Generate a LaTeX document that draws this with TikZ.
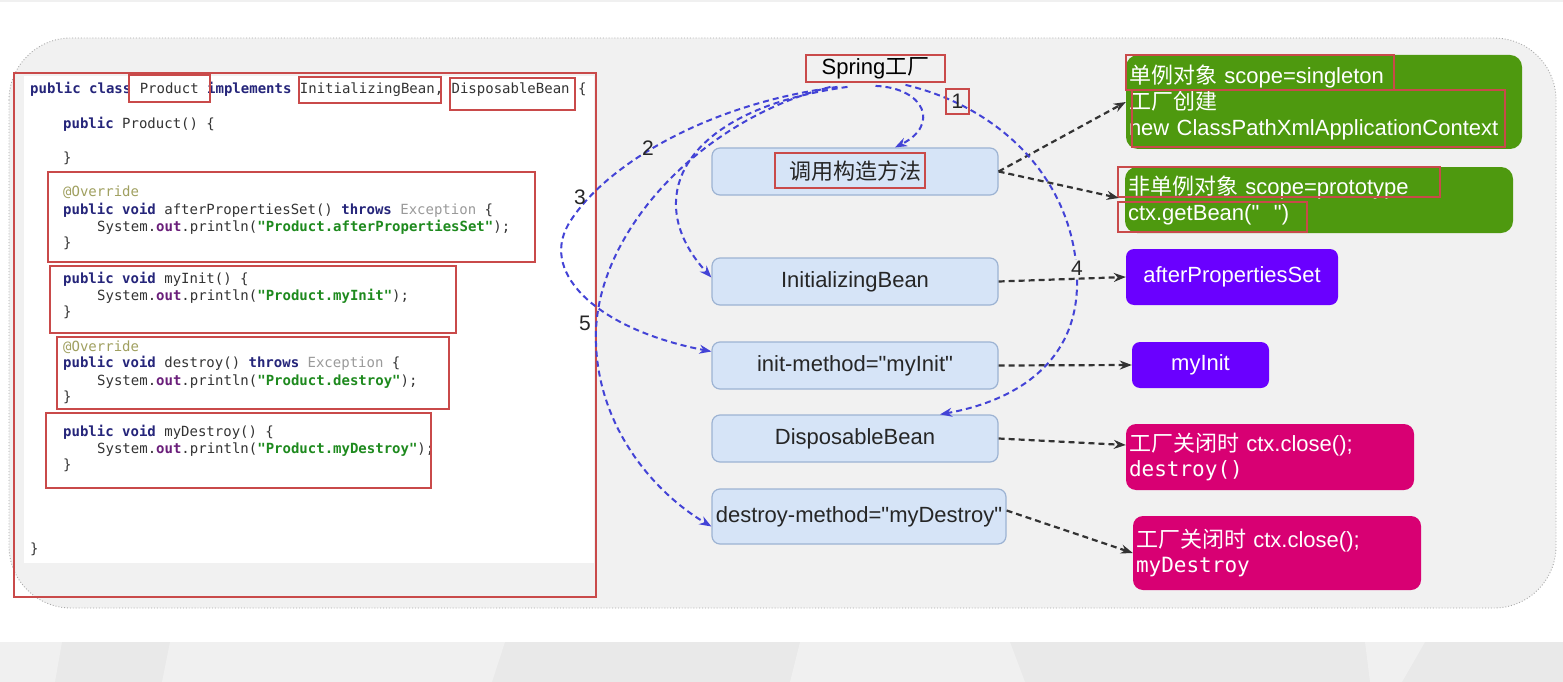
\documentclass[tikz,border=0pt]{standalone}
\usepackage{fontspec}
\setmainfont{Liberation Sans}[Ligatures=TeXOff]
\newfontfamily\cjk{Noto Sans CJK SC}
\newfontfamily\codefont{DejaVu Sans Mono}[Ligatures=TeXOff]
\usetikzlibrary{calc,arrows.meta}
\definecolor{panelfill}{HTML}{F1F1F1}
\definecolor{panelborder}{HTML}{A8A8A8}
\definecolor{bluefill}{HTML}{D6E4F7}
\definecolor{blueborder}{HTML}{9DB3D3}
\definecolor{greenc}{HTML}{4E990F}
\definecolor{purplec}{HTML}{6A00FF}
\definecolor{magentac}{HTML}{D80073}
\definecolor{annored}{HTML}{C94A4A}
\definecolor{bluearrow}{HTML}{4343D6}
\definecolor{blackarrow}{HTML}{333333}
\definecolor{kwc}{HTML}{25257A}
\definecolor{strc}{HTML}{1E8A1E}
\definecolor{outc}{HTML}{6A1E7A}
\definecolor{excc}{HTML}{9A9A9A}
\definecolor{annc}{HTML}{A0A060}
\definecolor{plainc}{HTML}{333333}
\definecolor{bandc}{HTML}{E9E9E9}
\definecolor{bandlight}{HTML}{F0F0F0}
\newcommand\ckw[1]{\textcolor{kwc}{\bfseries #1}}
\newcommand\cstr[1]{\textcolor{strc}{\bfseries #1}}
\newcommand\cout[1]{\textcolor{outc}{\bfseries #1}}
\newcommand\cexc[1]{\textcolor{excc}{#1}}
\newcommand\cann[1]{\textcolor{annc}{#1}}
\newcommand\mymono{\codefont\fontsize{21}{25}\selectfont}
\begin{document}
\begin{tikzpicture}[x=1pt,y=-1pt,
  big/.style={font=\fontsize{22}{26}\selectfont},
  bluebox/.style={draw=blueborder, fill=bluefill, rounded corners=8pt, line width=1.2pt,
    font=\fontsize{22}{26}\selectfont, text=black!85, inner sep=0pt},
  gbox/.style={fill=greenc, rounded corners=12pt, text=white, align=left, inner xsep=3pt,
    inner ysep=0pt, font=\fontsize{22}{26}\selectfont},
  pbox/.style={fill=purplec, rounded corners=8pt, text=white, inner sep=0pt,
    font=\fontsize{22}{26}\selectfont},
  mbox/.style={fill=magentac, rounded corners=10pt, text=white, align=left, inner xsep=3pt,
    inner ysep=0pt, font=\fontsize{22}{25}\selectfont},
  annobox/.style={draw=annored, line width=1.8pt},
  codeline/.style={anchor=base west, inner sep=0pt, text=plainc,
    font=\codefont\fontsize{14}{17}\selectfont},
  blk/.style={draw=blackarrow, line width=2.2pt, dash pattern=on 6pt off 4pt,
    -{Stealth[length=12pt,width=9pt]}},
  blu/.style={draw=bluearrow, line width=2pt, dash pattern=on 6pt off 4pt,
    -{Stealth[length=12pt,width=9pt]}},
  numlbl/.style={font=\fontsize{21}{24}\selectfont, inner sep=1pt, text=black!85}
]
\useasboundingbox (0,0) rectangle (1563,682);
% background
\fill[white] (0,0) rectangle (1563,682);
\fill[black!6] (0,0) rectangle (1563,2);
\fill[bandc] (0,642) rectangle (1563,682);
\fill[bandlight] (0,642) -- (62,642) -- (55,682) -- (0,682) -- cycle;
\fill[bandlight] (170,642) -- (505,642) -- (492,682) -- (162,682) -- cycle;
\fill[bandlight] (800,642) -- (1010,642) -- (1025,682) -- (790,682) -- cycle;
\fill[bandlight] (1365,642) -- (1425,642) -- (1402,682) -- (1370,682) -- cycle;
% outer panel
\draw[panelborder, line width=0.9pt, dotted, fill=panelfill, rounded corners=62pt]
  (9,38) rectangle (1556,608);
% code panel
\fill[white] (24,76) rectangle (594,563);
\draw[annobox] (14,73) rectangle (596,597);
\node[codeline] (c1) at (30,94) {\ckw{public class} Product \ckw{implements} InitializingBean, DisposableBean \{};
\node[codeline] (c2) at (63,129) {\ckw{public} Product() \{};
\node[codeline] (c3) at (63,162) {\}};
\node[codeline] (c4) at (63,196) {\cann{@Override}};
\node[codeline] (c5) at (63,214) {\ckw{public void} afterPropertiesSet() \ckw{throws} \cexc{Exception} \{};
\node[codeline] (c6) at (97,231) {System.\cout{out}.println(\cstr{"Product.afterPropertiesSet"});};
\node[codeline] (c7) at (63,247) {\}};
\node[codeline] (c8) at (63,283) {\ckw{public void} myInit() \{};
\node[codeline] (c9) at (97,300) {System.\cout{out}.println(\cstr{"Product.myInit"});};
\node[codeline] (c10) at (63,316) {\}};
\node[codeline] (c11) at (63,351) {\cann{@Override}};
\node[codeline] (c12) at (63,367) {\ckw{public void} destroy() \ckw{throws} \cexc{Exception} \{};
\node[codeline] (c13) at (97,385) {System.\cout{out}.println(\cstr{"Product.destroy"});};
\node[codeline] (c14) at (63,401) {\}};
\node[codeline] (c15) at (63,436) {\ckw{public void} myDestroy() \{};
\node[codeline] (c16) at (97,453) {System.\cout{out}.println(\cstr{"Product.myDestroy"});};
\node[codeline] (c17) at (63,469) {\}};
\node[codeline] (c18) at (30,553) {\}};
% code annotations
\draw[annobox] (129,75) rectangle (210,102);
\draw[annobox] (299,77) rectangle (441,103);
\draw[annobox] (450,78) rectangle (575,110);
\draw[annobox] (48,172) rectangle (535,262);
\draw[annobox] (50,266) rectangle (456,333);
\draw[annobox] (57,337) rectangle (449,409);
\draw[annobox] (46,413) rectangle (431,488);
% factory
\node[annobox, big, minimum width=139pt, minimum height=27pt, inner sep=0pt] (spring) at (875.5,68.5) {Spring{\cjk 工厂}};
% lifecycle boxes
\node[bluebox, minimum width=286pt, minimum height=47pt] (ctor) at (855,171.5) {{\cjk 调用构造方法}};
\draw[annobox] (775,153) rectangle (925,188);
\node[bluebox, minimum width=286pt, minimum height=47pt] (ib) at (855,281.5) {InitializingBean};
\node[bluebox, minimum width=286pt, minimum height=47pt] (im) at (855,365.5) {init-method="myInit"};
\node[bluebox, minimum width=286pt, minimum height=47pt] (db) at (855,438.5) {DisposableBean};
\node[bluebox, minimum width=294pt, minimum height=55pt] (dm) at (859,516.5) {destroy-method="myDestroy"};
% right side
\node[gbox, text width=390pt, minimum height=94pt] (g1) at (1324,102)
  {{\cjk 单例对象} scope=singleton\\{\cjk 工厂创建}\\new ClassPathXmlApplicationContext};
\draw[annobox] (1126,55) rectangle (1394,90);
\draw[annobox] (1132,90) rectangle (1505,147);
\node[gbox, text width=382pt, minimum height=66pt] (g2) at (1319,200)
  {{\cjk 非单例对象} scope=prototype\\ctx.getBean("\ \ ")};
\draw[annobox] (1118,167) rectangle (1440,197);
\draw[annobox] (1118,202) rectangle (1307,232);
\node[pbox, minimum width=212pt, minimum height=56pt] (p1) at (1232,277) {afterPropertiesSet};
\node[pbox, minimum width=137pt, minimum height=46pt] (p2) at (1200.5,365) {myInit};
\node[mbox, text width=282pt, minimum height=66pt] (m1) at (1270,457)
  {{\cjk 工厂关闭时} ctx.close();\\{\mymono destroy()}};
\node[mbox, text width=282pt, minimum height=74pt] (m2) at (1277,553)
  {{\cjk 工厂关闭时} ctx.close();\\{\mymono myDestroy}};
% black connectors
\draw[blk] (ctor.east) -- (g1.west);
\draw[blk] (ctor.east) -- ($(g2.west)+(-6,-2)$);
\draw[blk] (ib.east) -- (p1.west);
\draw[blk] (im.east) -- (p2.west);
\draw[blk] (db.east) -- ($(m1.west)+(0,-12)$);
\draw[blk] ($(dm.east)+(0,-6)$) -- (m2.west);
% blue connectors
\draw[blu] ($(spring.south)+(0,3)$) .. controls (925,88) and (940,125) .. ($(ctor.north)+(40,0)$);
\draw[blu] ($(spring.south)+(-28,4)$) .. controls (680,110) and (640,200) .. ($(ib.west)+(0,-4)$);
\draw[blu] ($(spring.south)+(-38,4)$) .. controls (700,105) and (600,170) .. (568,225)
  .. controls (540,275) and (600,330) .. ($(im.west)+(0,-14)$);
\draw[blu] ($(spring.south)+(30,2)$) .. controls (1010,110) and (1078,190) .. (1077,285)
  .. controls (1076,360) and (1020,400) .. ($(db.north)+(85,0)$);
\draw[blu] ($(spring.south)+(-45,4)$) .. controls (700,120) and (600,230) .. (596,330)
  .. controls (593,420) and (650,490) .. ($(dm.west)+(0,10)$);
% step numbers
\node[annobox, numlbl, minimum width=23pt, minimum height=25pt, inner sep=0pt] (n1) at (957.5,101.5) {1};
\node[numlbl] (n2) at (648,148) {2};
\node[numlbl] (n3) at (580,197) {3};
\node[numlbl, fill=panelfill] (n4) at (1077,268) {4};
\node[numlbl] (n5) at (585,323) {5};
\end{tikzpicture}
\end{document}
